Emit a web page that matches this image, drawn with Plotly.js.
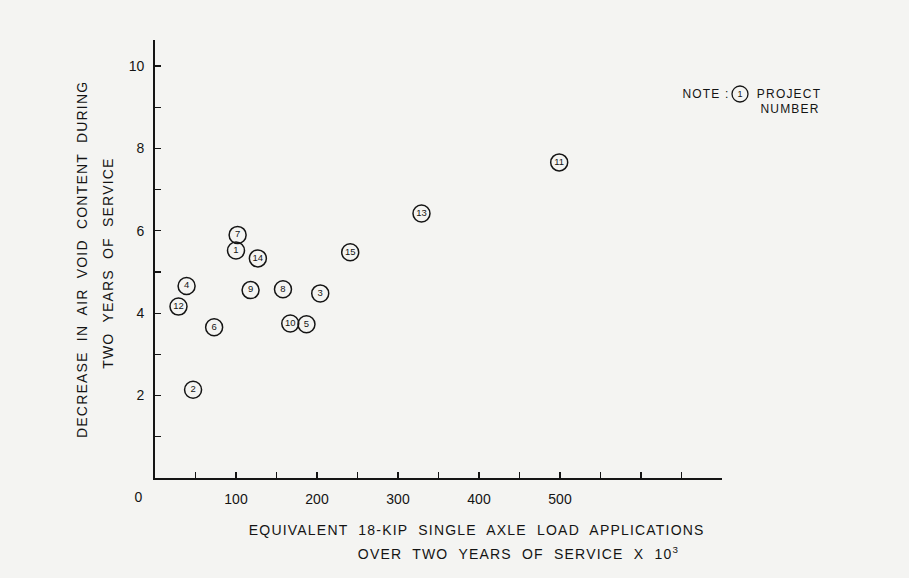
<!DOCTYPE html>
<html>
<head>
<meta charset="utf-8">
<script src="https://cdn.plot.ly/plotly-3.0.1.min.js"></script>
<style>
  html, body { margin: 0; padding: 0; background: #f4f4f2; }
  #chart { width: 909px; height: 578px; }
  /* hand-lettered captions are widely spaced */
  #chart .annotation-text { letter-spacing: 1.2px; }
</style>
</head>
<body>
<div id="chart"></div>
<script>
// Project numbers and their measured values
const projects = [1, 2, 3, 4, 5, 6, 7, 8, 9, 10, 11, 12, 13, 14, 15];
// Equivalent 18-kip single axle load applications over two years (x 10^3)
const loadApps = [100, 47, 204, 39, 187, 73, 102, 158, 118, 167, 499, 29, 329, 127, 241];
// Decrease in air void content during two years of service (%)
const voidDecrease = [5.52, 2.14, 4.48, 4.66, 3.73, 3.66, 5.90, 4.58, 4.56, 3.75, 7.66, 4.16, 6.42, 5.33, 5.48];

// Axis ticks: every minor step gets a tick mark, only major steps get a label
const xTickVals = [50, 100, 150, 200, 250, 300, 350, 400, 450, 500, 550, 600, 650];
const xTickText = ['', '100', '', '200', '', '300', '', '400', '', '500', '', '', ''];
const yTickVals = [1, 2, 3, 4, 5, 6, 7, 8, 9, 10];
const yTickText = ['', '2', '', '4', '', '6', '', '8', '', '10'];

const ink = '#141414';
const font = 'Liberation Sans, Arial, sans-serif';

const trace = {
  type: 'scatter',
  mode: 'markers+text',
  x: loadApps,
  y: voidDecrease,
  text: projects.map(String),
  textposition: 'middle center',
  textfont: { family: font, size: 9.5, color: ink },
  marker: { symbol: 'circle-open', size: 17, color: ink, line: { width: 1.5, color: ink } },
  cliponaxis: false,
  hoverinfo: 'skip'
};

const W = 909, H = 578;
const M = { l: 155, r: 187, t: 40, b: 100 };
const PW = W - M.l - M.r, PH = H - M.t - M.b;
// convert page pixels to paper fractions for the free-standing text
const px = v => (v - M.l) / PW;
const py = v => (H - M.b - v) / PH;

const titleFont = { family: font, size: 14, color: ink };
const noteFont = { family: font, size: 12, color: ink };

const annotations = [
  { text: '0', x: 0, y: 0, xref: 'x', yref: 'y', xshift: -16, yshift: -19, showarrow: false,
    font: { family: font, size: 14, color: ink } },
  { text: 'EQUIVALENT  18-KIP  SINGLE  AXLE  LOAD  APPLICATIONS', x: px(476), y: py(530),
    xref: 'paper', yref: 'paper', xanchor: 'center', yanchor: 'middle', showarrow: false,
    font: titleFont },
  { text: 'OVER  TWO  YEARS  OF  SERVICE  X  10<sup>3</sup>', x: px(519), y: py(553),
    xref: 'paper', yref: 'paper', xanchor: 'center', yanchor: 'middle', showarrow: false,
    font: titleFont },
  { text: 'DECREASE  IN  AIR  VOID  CONTENT  DURING', x: px(82), y: py(260), textangle: -90,
    xref: 'paper', yref: 'paper', xanchor: 'center', yanchor: 'middle', showarrow: false,
    font: titleFont },
  { text: 'TWO  YEARS  OF  SERVICE', x: px(108), y: py(263), textangle: -90,
    xref: 'paper', yref: 'paper', xanchor: 'center', yanchor: 'middle', showarrow: false,
    font: titleFont },
  { text: 'NOTE :', x: px(706), y: py(94), xref: 'paper', yref: 'paper',
    xanchor: 'center', yanchor: 'middle', showarrow: false, font: noteFont },
  { text: '1', x: px(740), y: py(94), xref: 'paper', yref: 'paper',
    xanchor: 'center', yanchor: 'middle', showarrow: false, font: { family: font, size: 9, color: ink } },
  { text: 'PROJECT', x: px(789), y: py(94), xref: 'paper', yref: 'paper',
    xanchor: 'center', yanchor: 'middle', showarrow: false, font: noteFont },
  { text: 'NUMBER', x: px(790), y: py(109), xref: 'paper', yref: 'paper',
    xanchor: 'center', yanchor: 'middle', showarrow: false, font: noteFont }
];

const shapes = [
  { type: 'circle', xref: 'paper', yref: 'paper', xsizemode: 'pixel', ysizemode: 'pixel',
    xanchor: px(740), yanchor: py(94), x0: -8, x1: 8, y0: -8, y1: 8,
    line: { color: ink, width: 1.3 } }
];

const layout = {
  width: W, height: H,
  margin: M,
  paper_bgcolor: '#f4f4f2',
  plot_bgcolor: '#f4f4f2',
  showlegend: false,
  font: { family: font, color: ink },
  xaxis: {
    range: [0, 700], showgrid: false, zeroline: false,
    showline: true, linecolor: ink, linewidth: 1.8,
    ticks: 'inside', ticklen: 6, tickwidth: 1.2, tickcolor: ink,
    tickmode: 'array', tickvals: xTickVals, ticktext: xTickText,
    tickfont: { family: font, size: 14, color: ink }, ticklabelstandoff: 7
  },
  yaxis: {
    range: [0, 10.63], showgrid: false, zeroline: false,
    showline: true, linecolor: ink, linewidth: 1.8,
    ticks: 'inside', ticklen: 6, tickwidth: 1.2, tickcolor: ink,
    tickmode: 'array', tickvals: yTickVals, ticktext: yTickText,
    tickfont: { family: font, size: 14, color: ink }, ticklabelstandoff: 6
  },
  annotations: annotations,
  shapes: shapes
};

Plotly.newPlot('chart', [trace], layout, { staticPlot: true, displayModeBar: false });
</script>
</body>
</html>
